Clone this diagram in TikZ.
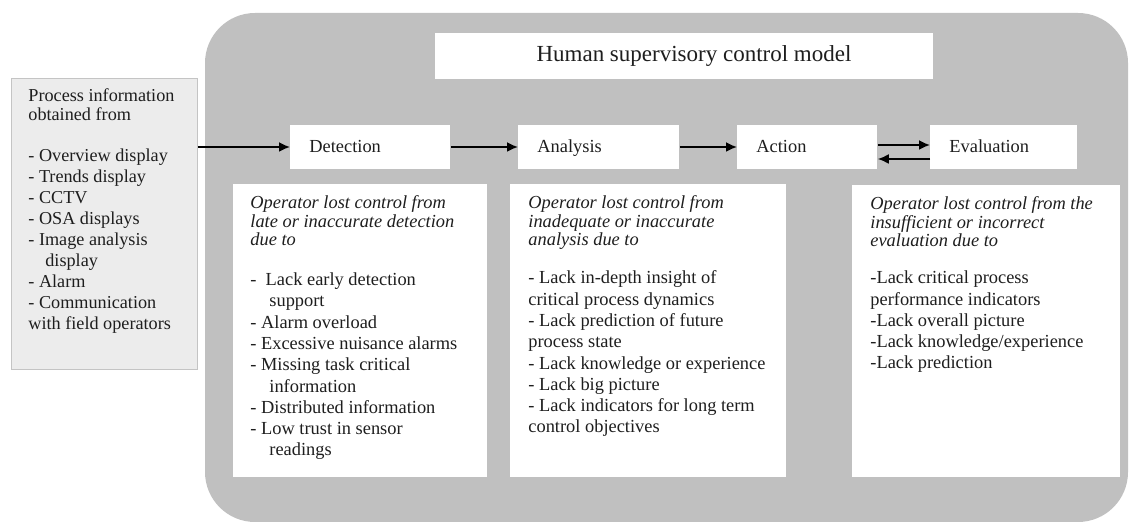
\documentclass[tikz,border=0pt]{standalone}
\usepackage{fontspec}
\setmainfont{Liberation Serif}
\usetikzlibrary{arrows.meta}
\definecolor{panelgray}{HTML}{C0C0C0}
\definecolor{infofill}{HTML}{ECECEC}
\definecolor{infoline}{HTML}{C4C4C4}
\definecolor{inktext}{HTML}{1E1E1E}
\newcommand\headfont{\fontsize{9.2}{9.35}\selectfont\itshape}
\newcommand\listfont{\fontsize{9.2}{10.65}\selectfont}
\newcommand\indt{\hspace*{9.5pt}}

\begin{document}
\begin{tikzpicture}[x=0.5pt,y=-0.5pt,
    stagebox/.style={fill=white,text=inktext,text width=#1,inner xsep=9.5pt,
        minimum height=22pt,text height=1.6ex,text depth=.4ex,align=left,anchor=west,
        font=\fontsize{9.2}{11}\selectfont},
    lossbox/.style={fill=white,anchor=north west,inner sep=0pt},
    headtext/.style={anchor=base west,inner sep=0pt,align=left,text=inktext,font=\headfont},
    listtext/.style={anchor=base west,inner sep=0pt,align=left,text=inktext,font=\listfont},
    flow/.style={-{Latex[length=5.5pt,width=5pt]},line width=0.9pt}]
        \useasboundingbox (0,0) rectangle (1130,523);
        % grey panel of the model
        \fill[panelgray,rounded corners=25pt] (205,13) rectangle (1128,522);
        \node[fill=white,minimum width=249pt,minimum height=23pt,text=inktext,
            font=\fontsize{11.5}{13}\selectfont] (title) at (684,56) {\hspace*{10pt}Human supervisory control model};
        % process information (texts placed by their last baseline)
        \node[fill=infofill,draw=infoline,line width=0.4pt,anchor=north west,inner sep=0pt,
            minimum width=93pt,minimum height=145.5pt] (info) at (11,78) {};
        \node[listtext,font=\fontsize{9.1}{9.5}\selectfont] (infohead) at (28,121)
            {Process information\\obtained from};
        \node[listtext,font=\fontsize{9.1}{10.55}\selectfont] (infolist) at (28,330)
            {- Overview display\\- Trends display\\- CCTV\\- OSA displays\\- Image analysis\\
             \hspace*{8.5pt}display\\- Alarm\\- Communication\\with field operators};
        % stages
        \node[stagebox=61pt] (det) at (290,147) {Detection};
        \node[stagebox=61.5pt] (ana) at (518,147) {Analysis};
        \node[stagebox=51pt] (act) at (737,147) {Action};
        \node[stagebox=54.5pt] (eval) at (930,147) {Evaluation};
        \draw[flow] (info.east |- det.west) -- (det.west);
        \draw[flow] (det) -- (ana);
        \draw[flow] (ana) -- (act);
        \draw[flow] ([yshift=1pt]act.east) -- ([yshift=1pt]eval.west);
        \draw[flow] ([yshift=-6pt]eval.west) -- ([yshift=-6pt]act.east);
        % loss of control
        \node[lossbox,minimum width=127pt,minimum height=146.5pt] (detloss) at (233,184) {};
        \node[headtext] (dethead) at (250,246)
            {Operator lost control from\\late or inaccurate detection\\due to};
        \node[listtext] (detlist) at (250,456)
            {-\ \ Lack early detection\\\indt support\\- Alarm overload\\- Excessive nuisance alarms\\
             - Missing task critical\\\indt information\\- Distributed information\\
             - Low trust in sensor\\\indt readings};
        \node[lossbox,minimum width=138pt,minimum height=146.5pt] (analoss) at (510,184) {};
        \node[headtext] (anahead) at (528,246)
            {Operator lost control from\\inadequate or inaccurate\\analysis due to};
        \node[listtext] (analist) at (528,433)
            {- Lack in-depth insight of\\critical process dynamics\\- Lack prediction of future\\
             process state\\- Lack knowledge or experience\\- Lack big picture\\
             - Lack indicators for long term\\control objectives};
        \node[lossbox,minimum width=134pt,minimum height=146pt] (evalloss) at (852,185) {};
        \node[headtext] (evalhead) at (870,247)
            {Operator lost control from the\\insufficient or incorrect\\evaluation due to};
        \node[listtext] (evallist) at (870,369)
            {-Lack critical process\\performance indicators\\-Lack overall picture\\
             -Lack knowledge/experience\\-Lack prediction};
\end{tikzpicture}
\end{document}
